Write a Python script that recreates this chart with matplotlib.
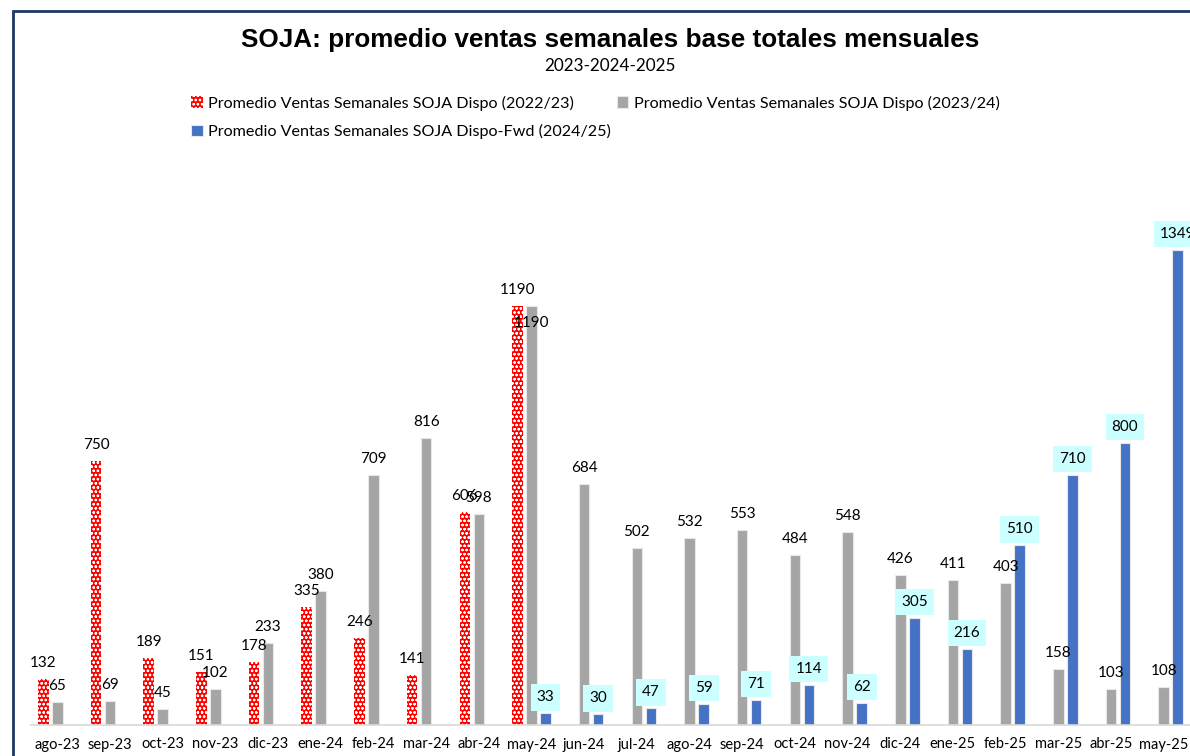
import matplotlib.pyplot as plt
import matplotlib.patches as mpatches
import numpy as np

# data
meses = ["ago-23", "sep-23", "oct-23", "nov-23", "dic-23", "ene-24", "feb-24",
         "mar-24", "abr-24", "may-24", "jun-24", "jul-24", "ago-24", "sep-24",
         "oct-24", "nov-24", "dic-24", "ene-25", "feb-25", "mar-25", "abr-25",
         "may-25"]
dispo_2223 = [132, 750, 189, 151, 178, 335, 246, 141, 606, 1190,
              None, None, None, None, None, None, None, None, None, None, None, None]
dispo_2324 = [65, 69, 45, 102, 233, 380, 709, 816, 598, 1190, 684, 502, 532,
              553, 484, 548, 426, 411, 403, 158, 103, 108]
fwd_2425 = [None, None, None, None, None, None, None, None, None, 33, 30, 47,
            59, 71, 114, 62, 305, 216, 510, 710, 800, 1349]

nombres = ["Promedio Ventas Semanales SOJA Dispo (2022/23)",
           "Promedio Ventas Semanales SOJA Dispo (2023/24)",
           "Promedio Ventas Semanales SOJA Dispo-Fwd (2024/25)"]

ROJO = "#FF0000"
GRIS = "#A5A5A5"
AZUL = "#4472C4"
FONT = ["Lato", "DejaVu Sans"]

plt.rcParams["hatch.linewidth"] = 0.6

fig = plt.figure(figsize=(11.9, 7.56), dpi=100)
ax = fig.add_axes([31 / 1190, 31 / 756, 1 - 31 / 1190, 493 / 756])

x = np.arange(len(meses))
w = 0.2
off = 0.266


def valores(serie):
    return np.array([np.nan if v is None else v for v in serie], dtype=float)


v1, v2, v3 = valores(dispo_2223), valores(dispo_2324), valores(fwd_2425)

b1 = ax.bar(x - off, v1, w, color=ROJO, edgecolor="white", hatch="oooo",
            linewidth=0, label=nombres[0])
b2 = ax.bar(x, v2, w, color=GRIS, edgecolor="#E8E8E8", linewidth=0.8,
            label=nombres[1])
b3 = ax.bar(x + off, v3, w, color=AZUL, edgecolor="#E8E8E8", linewidth=0.8,
            label=nombres[2])

# data labels
for i, v in enumerate(v1):
    if not np.isnan(v):
        ax.annotate(f"{int(v)}", (x[i] - off, v), xytext=(0, 11.5),
                    textcoords="offset points", ha="center", va="center",
                    fontsize=11, family=FONT, annotation_clip=False)
for i, v in enumerate(v2):
    dy = 11.5
    if meses[i] == "may-24":
        dy = -12  # label sits inside the bar in the original
    ax.annotate(f"{int(v)}", (x[i], v), xytext=(0, dy),
                textcoords="offset points", ha="center", va="center",
                fontsize=11, family=FONT, annotation_clip=False)
for i, v in enumerate(v3):
    if not np.isnan(v):
        ax.annotate(f"{int(v)}", (x[i] + off, v), xytext=(0, 11.5),
                    textcoords="offset points", ha="center", va="center",
                    fontsize=11, family=FONT, annotation_clip=False,
                    bbox=dict(boxstyle="square,pad=0.4", fc="#CCFFFF", ec="none"))

ax.set_xlim(-0.5, len(meses) - 0.5)
ax.set_ylim(0, 1400)
ax.set_xticks(x)
ax.set_xticklabels(meses, fontsize=10.5, family=FONT)
ax.tick_params(axis="x", length=0, pad=9)
ax.set_yticks([])
for s in ["top", "left", "right"]:
    ax.spines[s].set_visible(False)
ax.spines["bottom"].set_color("#D9D9D9")
ax.spines["bottom"].set_linewidth(1.2)

# titles
fig.text(610 / 1190, 1 - 40 / 756, "SOJA: promedio ventas semanales base totales mensuales",
         ha="center", va="center", fontsize=18.8, fontweight="bold",
         family="Liberation Sans")
fig.text(610 / 1190, 1 - 66 / 756, "2023-2024-2025", ha="center", va="center",
         fontsize=12.3, family=FONT)

# legend (column-major fill -> red, blue in col 1; gray in col 2)
fig.legend([b1, b3, b2], [nombres[0], nombres[2], nombres[1]],
           loc="upper left", bbox_to_anchor=(185 / 1190, 1 - 89 / 756),
           ncol=2, frameon=False, prop={"family": FONT, "size": 11.6},
           handlelength=0.7, handleheight=0.7, handletextpad=0.35,
           columnspacing=0.35, labelspacing=0.85, borderaxespad=0)

# outer frame of the chart
fig.patches.append(mpatches.Rectangle((13 / 1190, -0.1), 1.2, 1 - 11 / 756 + 0.1,
                                      transform=fig.transFigure, fill=False,
                                      edgecolor="#1F3864", linewidth=2))

fig.savefig("out.png", dpi=100)
